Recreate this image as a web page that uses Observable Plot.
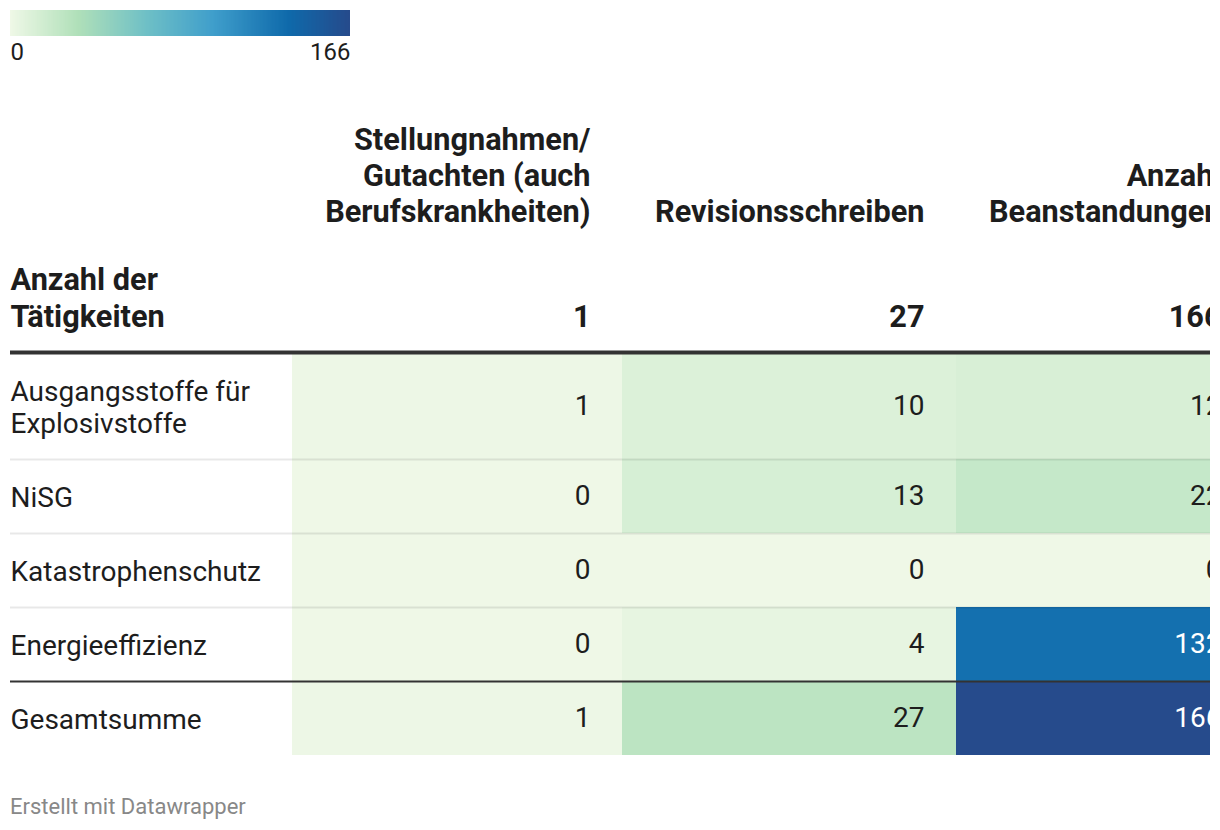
<!DOCTYPE html>
<html>
<head>
<meta charset="utf-8">
<script src="https://cdn.jsdelivr.net/npm/d3@7"></script>
<script src="https://cdn.jsdelivr.net/npm/@observablehq/plot@0.6"></script>
<style>
  body { margin: 0; background: #fff; font-family: Roboto, sans-serif; color: #1d1d1d; }
  #wrap { position: relative; width: 1210px; height: 830px; overflow: hidden; }
  #legend { position: absolute; left: 0; top: 0; }
  #table { position: absolute; left: 0; top: 80px; width: 1300px; }
  #table svg { max-width: none !important; }
  #footer { position: absolute; left: 10px; top: 796px; font-size: 22px; line-height: 22px; color: #888; white-space: nowrap; }
</style>
</head>
<body>
<div id="wrap">
  <div id="legend"></div>
  <div id="table"></div>
  <div id="footer">Erstellt mit Datawrapper</div>
</div>
<script>
// ---- data ----
const rowLabels = ["Ausgangsstoffe für\nExplosivstoffe", "NiSG", "Katastrophenschutz", "Energieeffizienz"];
const totalLabel = "Gesamtsumme";
const headerLabel = "Anzahl der\nTätigkeiten";
const columnLabels = ["Stellungnahmen/\nGutachten (auch\nBerufskrankheiten)", "Revisionsschreiben", "Anzahl\nBeanstandungen"];
const stellungnahmen = [1, 0, 0, 0];
const revisionsschreiben = [10, 13, 0, 4];
const beanstandungen = [12, 22, 0, 132];
const totals = [1, 27, 166];
const legendTicks = [0, 166];

// ---- colour scale ----
const colorStops = [0, 0.2, 0.4, 0.6, 0.82, 1];
const colorRange = ["#eff8e7", "#b0e0b9", "#6fc0c6", "#3f9ecb", "#0f6aab", "#264b8c"];
const ramp = d3.scaleLinear().domain(colorStops).range(colorRange).interpolate(d3.interpolateRgb).clamp(true);
const colorOptions = {type: "linear", domain: [0, 166], interpolate: (t) => ramp(t)};

// ---- layout ----
const L = {
  left: 10, labelColRight: 292, colWidths: [330, 334, 297], padRight: 32,
  headerBaseline: 141, totalsBaseline: 246, ruleY: 272, tableTop: 273,
  rowPad: 42, lineH: 32, width: 1300, height: 700,
  bodySize: 28, headSize: 30.7
};

const series = [stellungnahmen, revisionsschreiben, beanstandungen];
const rows = rowLabels.map((label, i) => ({label, values: series.map((s) => s[i]), lines: label.split("\n").length, total: false}));
rows.push({label: totalLabel, values: totals, lines: 1, total: true});
{
  let y = L.tableTop;
  for (const r of rows) { r.y1 = y; r.y2 = y + L.rowPad + r.lines * L.lineH; y = r.y2; }
}
const colX = [];
{
  let x = L.labelColRight;
  for (const w of L.colWidths) { colX.push([x, x + w]); x += w; }
}
const cols = columnLabels.map((label, i) => ({label, x1: colX[i][0], x2: colX[i][1], total: totals[i]}));
const cells = rows.flatMap((r) => r.values.map((v, ci) => ({
  row: r.label, col: columnLabels[ci], value: v,
  x1: colX[ci][0], x2: colX[ci][1], y1: r.y1, y2: r.y2
})));
const mid = (d) => (d.y1 + d.y2) / 2;
const dark = (d) => d.value > 100;

// ---- legend ----
const legend = Plot.legend({
  color: colorOptions,
  label: null,
  ticks: legendTicks,
  tickSize: 0,
  width: 360, height: 70,
  marginLeft: 10, marginRight: 10, marginTop: 10, marginBottom: 34,
  style: {fontSize: "24px", fontFamily: "Roboto, sans-serif", color: "#1d1d1d", background: "transparent"}
});
legend.querySelectorAll(".tick line").forEach((l) => l.remove());
const lt = legend.querySelectorAll(".tick text");
lt.forEach((t, i) => {
  t.setAttribute("y", 7);
  t.setAttribute("text-anchor", i === 0 ? "start" : i === lt.length - 1 ? "end" : "middle");
});
document.getElementById("legend").append(legend);

// ---- table ----
const table = Plot.plot({
  width: L.width, height: L.height,
  margin: 0,
  x: {domain: [0, L.width], range: [0, L.width], axis: null},
  y: {domain: [0, L.height], range: [0, L.height], axis: null},
  color: colorOptions,
  style: {fontFamily: "Roboto, sans-serif", fontSize: "28px", color: "#1d1d1d", background: "transparent", overflow: "visible", maxWidth: "none"},
  marks: [
    Plot.rect(cells, {x1: "x1", x2: "x2", y1: "y1", y2: "y2", fill: "value"}),
    // row separators
    Plot.ruleY(rows.slice(1, -1), {y: "y1", x1: L.left, x2: L.width, stroke: "#000", strokeOpacity: 0.09, strokeWidth: 2}),
    Plot.ruleY(rows.slice(-1), {y: "y1", x1: L.left, x2: L.width, stroke: "#333", strokeWidth: 2}),
    Plot.ruleY([L.ruleY], {x1: L.left, x2: L.width, stroke: "#333", strokeWidth: 4}),
    // header
    Plot.text(cols, {x: "x2", y: L.headerBaseline, dx: -L.padRight, text: "label", textAnchor: "end", lineAnchor: "bottom",
      lineHeight: 36 / L.headSize, fontWeight: "bold", fontSize: L.headSize, fill: "#1d1d1d"}),
    Plot.text(cols, {x: "x2", y: L.totalsBaseline, dx: -L.padRight, text: (d) => String(d.total), textAnchor: "end", lineAnchor: "bottom",
      fontWeight: "bold", fontSize: L.headSize, fill: "#1d1d1d"}),
    Plot.text([headerLabel], {x: L.left, y: L.totalsBaseline, text: (d) => d, textAnchor: "start", lineAnchor: "bottom",
      lineHeight: 37 / L.headSize, fontWeight: "bold", fontSize: L.headSize, fill: "#1d1d1d"}),
    // row labels
    Plot.text(rows, {x: L.left, y: mid, text: "label", textAnchor: "start", lineAnchor: "middle",
      lineHeight: L.lineH / L.bodySize, fontSize: L.bodySize, fill: "#1d1d1d"}),
    // values
    Plot.text(cells.filter((d) => !dark(d)), {x: "x2", y: mid, dx: -L.padRight, text: (d) => String(d.value), textAnchor: "end",
      lineAnchor: "middle", fontSize: L.bodySize, fill: "#1d1d1d"}),
    Plot.text(cells.filter(dark), {x: "x2", y: mid, dx: -L.padRight, text: (d) => String(d.value), textAnchor: "end",
      lineAnchor: "middle", fontSize: L.bodySize, fill: "#ffffff"})
  ]
});
document.getElementById("table").append(table);
</script>
</body>
</html>
